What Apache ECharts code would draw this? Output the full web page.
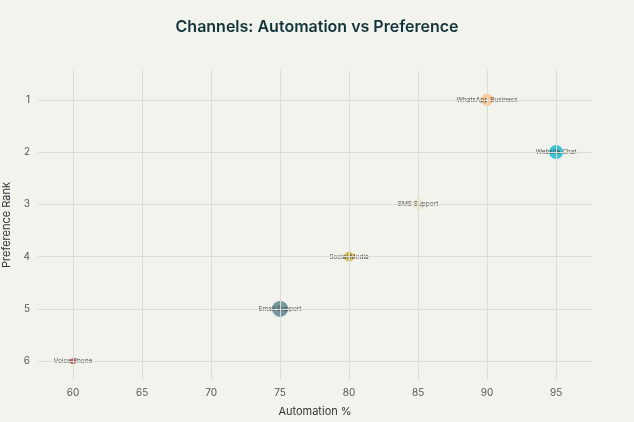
<!DOCTYPE html><html><head><meta charset="utf-8"><script src="https://cdn.jsdelivr.net/npm/echarts@6/dist/echarts.min.js"></script></head><body style="margin:0;background:#f3f3ee"><div id="c" style="width:634px;height:422px"></div><script>
const channels=["Voice Phone","Email Support","Social Media","SMS Support","WhatsApp Business","Website Chat"];
const automation=[60,75,80,85,90,95];
const rank=[6,5,4,3,1,2];
const sizes=[6,16,10,12,12,14];
const colors=["#B4413C","#5D878F","#D2BA4C","#ECEBD5","#FFC185","#1FB8CD"];
const xTicks=[60,65,70,75,80,85,90,95];
const yTicks=[1,2,3,4,5,6];
const ch=echarts.init(document.getElementById('c'));
const gl={color:'#dcdcd8',type:'solid',width:1};
ch.setOption({backgroundColor:'#f3f3ee',
title:{text:'Channels: Automation vs Preference',left:'center',top:14,textStyle:{fontFamily:'Inter',fontSize:16,fontWeight:600,color:'#13343B'}},
grid:{left:38,right:42,top:70,bottom:42,outerBoundsMode:'none',containLabel:false},
xAxis:{type:'value',min:57.46,max:97.6,name:'Automation %',nameLocation:'middle',nameGap:26,nameTextStyle:{fontFamily:'Inter',fontSize:11,color:'#333'},
axisLine:{show:false},axisTick:{show:false},splitLine:{show:false},
axisLabel:{fontFamily:'Inter',fontSize:10,color:'#555',customValues:xTicks}},
yAxis:{type:'value',inverse:true,min:0.43,max:6.36,name:'Preference Rank',nameLocation:'middle',nameGap:20,nameTextStyle:{fontFamily:'Inter',fontSize:11,color:'#333'},
axisLine:{show:false},axisTick:{show:false},splitLine:{show:false},
axisLabel:{fontFamily:'Inter',fontSize:10,color:'#555',customValues:yTicks}},
series:[{type:'scatter',data:automation.map((x,i)=>({value:[x,rank[i]],symbolSize:sizes[i],itemStyle:{color:colors[i],opacity:0.85},label:{show:true,formatter:channels[i],position:'inside',fontSize:6.5,fontFamily:'Inter',color:'#333'}})),z:3},
{type:'line',data:[],markLine:{silent:true,symbol:'none',label:{show:false},lineStyle:gl,data:yTicks.map(v=>({yAxis:v})).concat(xTicks.map(v=>({xAxis:v})))}}]
});
</script></body></html>
